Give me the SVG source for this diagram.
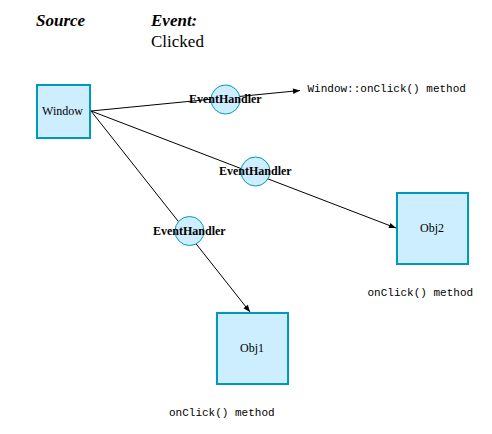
<svg xmlns="http://www.w3.org/2000/svg" width="492" height="434" viewBox="0 0 492 434">
<style>
.box{fill:#cceeff;stroke:#0099bb;stroke-width:2}
.eh{fill:#cceeff;stroke:#0099bb;stroke-width:1}
.lbl{font-family:"Liberation Serif",serif;font-size:12px;fill:#000}
.ehl{font-family:"Liberation Serif",serif;font-size:12px;font-weight:bold;fill:#000}
.mono{font-family:"Liberation Mono",monospace;font-size:11px;fill:#000}
.hdr{font-family:"Liberation Serif",serif;font-size:17px;font-weight:bold;font-style:italic;fill:#000}
.conn{stroke:#000;stroke-width:1;fill:none}
</style>
<defs>
<marker id="arr" viewBox="0 0 10 10" refX="10" refY="5" markerWidth="9" markerHeight="7" markerUnits="userSpaceOnUse" orient="auto">
<path d="M0,1 L10,5 L0,9 z" fill="#000"/>
</marker>
</defs>
<rect width="492" height="434" fill="#fff"/>
<g id="headers">
<text class="hdr" x="36" y="26">Source</text>
<text class="hdr" x="151" y="26">Event:</text>
<text x="151" y="47" font-family="Liberation Serif,serif" font-size="17px">Clicked</text>
</g>
<g id="connectors">
<line class="conn" x1="91" y1="111" x2="300" y2="90.5" marker-end="url(#arr)"/>
<line class="conn" x1="91" y1="111" x2="396" y2="228" marker-end="url(#arr)"/>
<line class="conn" x1="91" y1="111" x2="250" y2="312" marker-end="url(#arr)"/>
</g>
<g id="window">
<rect class="box" x="37" y="85" width="53" height="53"/>
<text class="lbl" x="62.5" y="115" text-anchor="middle">Window</text>
</g>
<g id="eh1">
<circle class="eh" cx="225.5" cy="99.5" r="14.5"/>
<text class="ehl" x="189" y="102.5">EventHandler</text>
</g>
<g id="eh2">
<circle class="eh" cx="255.5" cy="171.5" r="14.5"/>
<text class="ehl" x="219" y="174.5">EventHandler</text>
</g>
<g id="eh3">
<circle class="eh" cx="189.5" cy="231" r="14.5"/>
<text class="ehl" x="153" y="234.5">EventHandler</text>
</g>
<g id="obj2">
<rect class="box" x="397" y="193" width="71" height="71"/>
<text class="lbl" x="432" y="232" text-anchor="middle">Obj2</text>
</g>
<g id="obj1">
<rect class="box" x="217" y="313" width="71" height="71"/>
<text class="lbl" x="252" y="352" text-anchor="middle">Obj1</text>
</g>
<g id="labels">
<text class="mono" x="307.5" y="92">Window::onClick() method</text>
<text class="mono" x="367.5" y="296">onClick() method</text>
<text class="mono" x="169" y="416">onClick() method</text>
</g>
</svg>
